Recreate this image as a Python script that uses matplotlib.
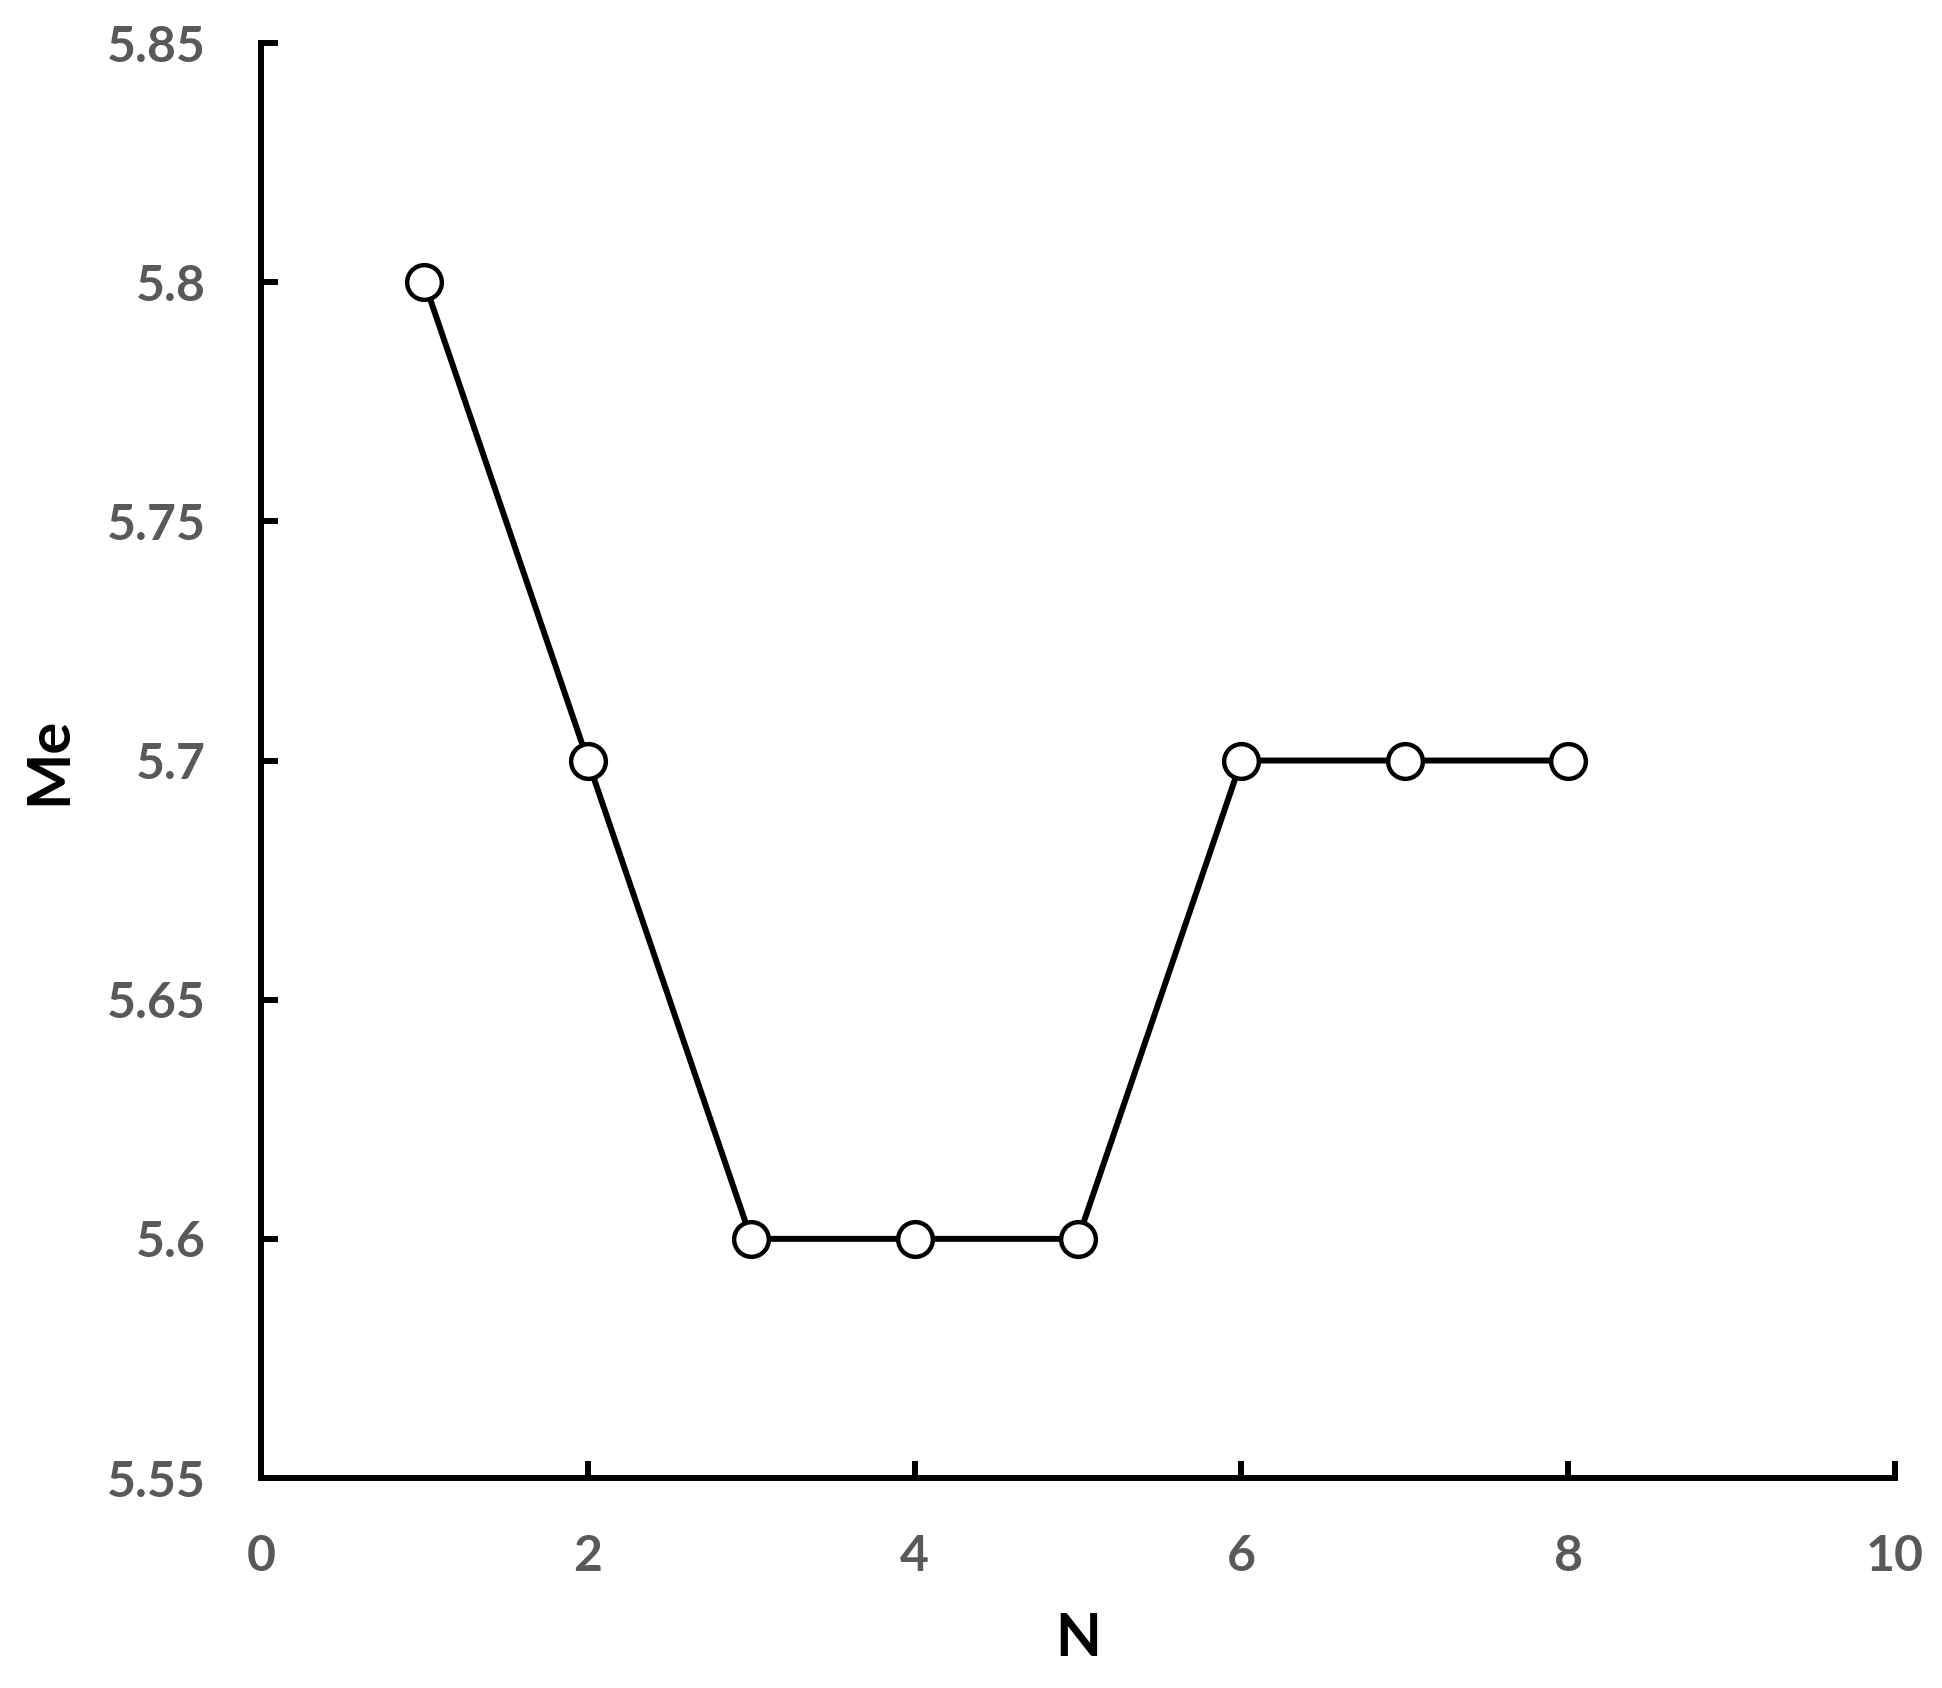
import matplotlib
matplotlib.use("Agg")
import matplotlib.pyplot as plt

n_values = [1, 2, 3, 4, 5, 6, 7, 8]
me_values = [5.8, 5.7, 5.6, 5.6, 5.6, 5.7, 5.7, 5.7]
x_ticks = [0, 2, 4, 6, 8, 10]
y_ticks = [5.55, 5.6, 5.65, 5.7, 5.75, 5.8, 5.85]
y_tick_labels = ["5.55", "5.6", "5.65", "5.7", "5.75", "5.8", "5.85"]

plt.rcParams["font.family"] = ["Lato", "DejaVu Sans"]
plt.rcParams["font.weight"] = "bold"

fig = plt.figure(figsize=(19.42, 16.88), dpi=100)
ax = fig.add_axes([0.1344, 0.1244, 0.8414, 0.8501])

ax.plot(n_values, me_values, color="black", linewidth=4.3, marker="o",
        markersize=25, markerfacecolor="white", markeredgecolor="black",
        markeredgewidth=3.2, clip_on=False, zorder=3)

ax.set_xlim(0, 10)
ax.set_ylim(5.55, 5.85)
ax.set_xticks(x_ticks)
ax.set_yticks(y_ticks)
ax.set_yticklabels(y_tick_labels)

for side in ["top", "right"]:
    ax.spines[side].set_visible(False)
for side in ["left", "bottom"]:
    ax.spines[side].set_linewidth(4.3)

ax.tick_params(direction="in", length=12, width=4.3, colors="black",
               labelcolor="#595959", labelsize=36)
ax.tick_params(axis="x", pad=40)
ax.tick_params(axis="y", pad=40)
for lbl in ax.get_xticklabels() + ax.get_yticklabels():
    lbl.set_fontweight("bold")

ax.set_xlabel("N", fontsize=43, fontweight="bold", labelpad=24)
ax.set_ylabel("Me", fontsize=43, fontweight="bold", labelpad=22)

fig.savefig("out.png", dpi=100)
